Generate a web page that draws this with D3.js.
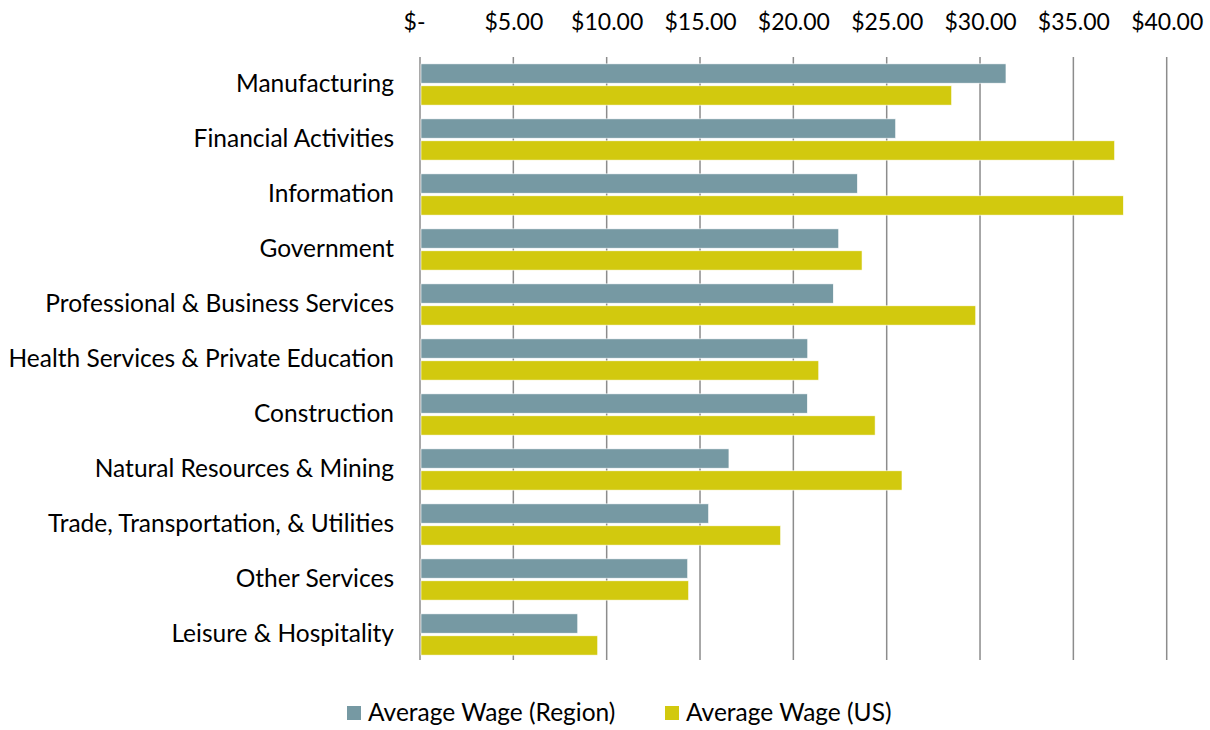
<!DOCTYPE html>
<html>
<head>
<meta charset="utf-8">
<script src="https://cdn.jsdelivr.net/npm/d3@7"></script>
<style>
  body { margin: 0; background: #fff; }
  svg { font-family: Lato, "Open Sans", sans-serif; }
</style>
</head>
<body>
<script>
// data
const categories = [
  "Manufacturing", "Financial Activities", "Information", "Government",
  "Professional & Business Services", "Health Services & Private Education",
  "Construction", "Natural Resources & Mining",
  "Trade, Transportation, & Utilities", "Other Services", "Leisure & Hospitality"
];
const regionWage = [31.39, 25.48, 23.43, 22.43, 22.14, 20.77, 20.75, 16.55, 15.46, 14.34, 8.45];
const usWage     = [28.48, 37.21, 37.68, 23.68, 29.77, 21.36, 24.38, 25.82, 19.32, 14.39, 9.52];
const seriesNames = ["Average Wage (Region)", "Average Wage (US)"];
const tickValues = [0, 5, 10, 15, 20, 25, 30, 35, 40];

const colors = ["#7699a3", "#d2c90e"];

const width = 1210, height = 730;
const svg = d3.select("body").append("svg")
    .attr("width", width)
    .attr("height", height);

const x = d3.scaleLinear().domain([0, 40]).range([420, 1166.7]);
const y = d3.scaleBand().domain(categories).range([57, 662]).paddingInner(0.25).paddingOuter(0.125);
const inner = d3.scaleBand().domain([0, 1]).range([0, y.bandwidth()]).paddingInner(0.12);

// gridlines
svg.append("g")
  .selectAll("line")
  .data(tickValues)
  .join("line")
    .attr("x1", d => x(d))
    .attr("x2", d => x(d))
    .attr("y1", 57)
    .attr("y2", 660)
    .attr("stroke", "#8c8c8c")
    .attr("stroke-width", 1.5);

// top axis labels
const xAxis = d3.axisTop(x)
    .tickValues(tickValues)
    .tickSize(0)
    .tickPadding(0)
    .tickFormat(d => d === 0 ? "$-" : "$" + d.toFixed(2));

const gx = svg.append("g")
    .attr("transform", "translate(0,30)")
    .call(xAxis);
gx.select(".domain").remove();
gx.selectAll("text")
    .attr("font-size", 23)
    .attr("fill", "#000")
    .attr("font-family", "Lato, 'Open Sans', sans-serif");
// "$-" sits a bit left, like the accounting format
gx.selectAll("text").filter(d => d === 0).attr("dx", -6);

// category labels
const yAxis = d3.axisLeft(y).tickSize(0).tickPadding(0);
const gy = svg.append("g")
    .attr("transform", "translate(394,0)")
    .call(yAxis);
gy.select(".domain").remove();
gy.selectAll("text")
    .attr("font-size", 24.5)
    .attr("fill", "#000")
    .attr("font-family", "Lato, 'Open Sans', sans-serif");

// bars
const rows = categories.map((c, i) => ({ c, vals: [regionWage[i], usWage[i]] }));
const groups = svg.append("g")
  .selectAll("g")
  .data(rows)
  .join("g")
    .attr("transform", d => `translate(0,${y(d.c)})`);

groups.selectAll("rect")
  .data(d => d.vals.map((v, k) => ({ v, k })))
  .join("rect")
    .attr("x", x(0) + 1)
    .attr("y", d => inner(d.k))
    .attr("width", d => x(d.v) - x(0) - 1)
    .attr("height", inner.bandwidth())
    .attr("fill", d => colors[d.k])
    .attr("stroke", "#fff")
    .attr("stroke-width", 0.6);

// legend
const legendItems = [
  { name: seriesNames[0], color: colors[0], x: 347 },
  { name: seriesNames[1], color: colors[1], x: 665 }
];
const legend = svg.append("g")
  .selectAll("g")
  .data(legendItems)
  .join("g")
    .attr("transform", d => `translate(${d.x},706)`);
legend.append("rect")
    .attr("width", 14)
    .attr("height", 14)
    .attr("fill", d => d.color);
legend.append("text")
    .attr("x", 21)
    .attr("y", 15)
    .attr("font-size", 24.5)
    .text(d => d.name);
</script>
</body>
</html>
